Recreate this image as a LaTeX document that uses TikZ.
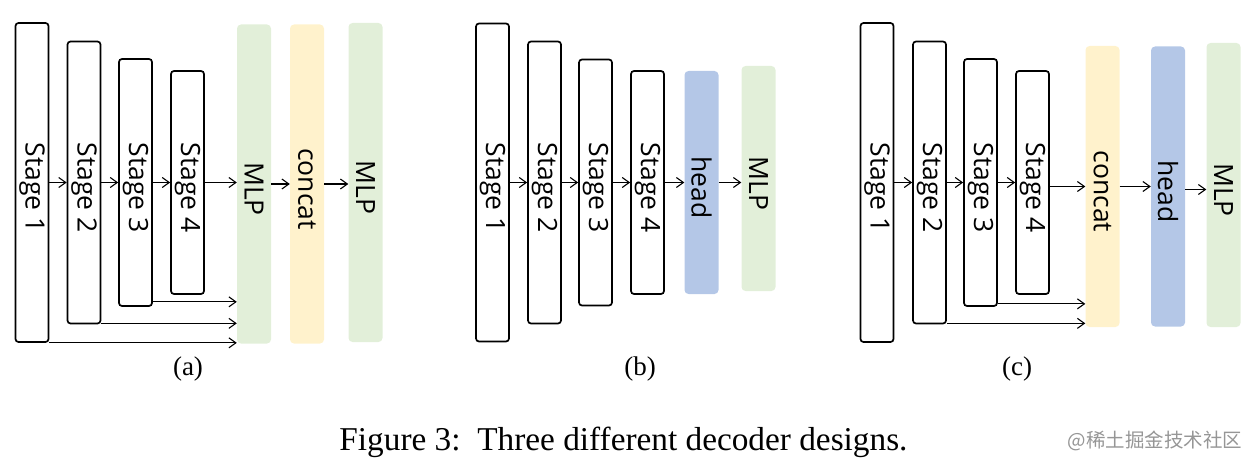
\documentclass[tikz,border=0pt]{standalone}
\usepackage{fontspec}
\setmainfont{Liberation Serif}
\setsansfont{Open Sans}
\newfontfamily\cjkfont{Noto Sans CJK SC}
\usepackage{graphicx}
\usetikzlibrary{arrows.meta}

\definecolor{mlpgreen}{RGB}{226,239,217}
\definecolor{catyellow}{RGB}{255,242,204}
\definecolor{headblue}{RGB}{180,199,231}
\definecolor{markgray}{RGB}{150,150,150}

\newcommand{\vlabel}[1]{\raisebox{-5pt}[\height][\depth]{\rotatebox{-90}{#1}}}

\tikzset{
  stagebox/.style={draw, line width=1.7pt, rounded corners=3pt, inner sep=0pt,
    minimum width=33pt, font=\sffamily\fontsize{26.5}{30}\selectfont},
  softbox/.style={rounded corners=4pt, inner sep=0pt, minimum width=34pt,
    font=\sffamily\fontsize{26.5}{30}\selectfont},
  mlpbox/.style={softbox, fill=mlpgreen},
  catbox/.style={softbox, fill=catyellow},
  headbox/.style={softbox, fill=headblue},
  arr/.style={-{Straight Barb[length=7pt,width=10pt]}, line width=1.1pt},
  sublabel/.style={font=\fontsize{27}{30}\selectfont},
}

\begin{document}
\begin{tikzpicture}[x=1pt, y=-1pt]
  \useasboundingbox (0,0) rectangle (1252,468);

  % (a)
  \node[stagebox, minimum height=319pt] (sa1) at (32,182.5) {\vlabel{Stage 1}};
  \node[stagebox, minimum height=282pt] (sa2) at (84,182.5) {\vlabel{Stage 2}};
  \node[stagebox, minimum height=247pt] (sa3) at (135.5,182.5) {\vlabel{Stage 3}};
  \node[stagebox, minimum height=223pt] (sa4) at (187.5,182.5) {\vlabel{Stage 4}};
  \node[mlpbox, minimum height=319pt] (mlpa1) at (254,184) {\vlabel{MLP}};
  \node[catbox, minimum height=319pt] (cata) at (307,184) {\vlabel{concat}};
  \node[mlpbox, minimum height=319pt] (mlpa2) at (365.5,182.5) {\vlabel{MLP}};

  \draw[arr] (sa1.east) -- (sa2.west);
  \draw[arr] (sa2.east) -- (sa3.west);
  \draw[arr] (sa3.east) -- (sa4.west);
  \draw[arr] (sa4.east) -- (sa4.east -| mlpa1.west);
  \draw[arr] (mlpa1.east) -- (mlpa1.east -| cata.west);
  \draw[arr] (cata.east) -- (cata.east -| mlpa2.west);

  \coordinate (ta3) at ([yshift=5pt]sa3.south east);
  \coordinate (ta2) at ([yshift=1pt]sa2.south east);
  \coordinate (ta1) at (sa1.south east);
  \draw[arr] (ta3) -- (ta3 -| mlpa1.west);
  \draw[arr] (ta2) -- (ta2 -| mlpa1.west);
  \draw[arr] (ta1) -- (ta1 -| mlpa1.west);

  \node[sublabel] (laba) at (188,369) {(a)};

  % (b)
  \node[stagebox, minimum height=318pt] (sb1) at (492.5,182.5) {\vlabel{Stage 1}};
  \node[stagebox, minimum height=282pt] (sb2) at (544.5,182.5) {\vlabel{Stage 2}};
  \node[stagebox, minimum height=246pt] (sb3) at (595.5,182.5) {\vlabel{Stage 3}};
  \node[stagebox, minimum height=223pt] (sb4) at (647.5,182.5) {\vlabel{Stage 4}};
  \node[headbox, minimum height=223pt] (headb) at (701.5,182.5) {\vlabel{head}};
  \node[mlpbox, minimum height=225pt] (mlpb) at (758.5,178.5) {\vlabel{MLP}};

  \draw[arr] (sb1.east) -- (sb2.west);
  \draw[arr] (sb2.east) -- (sb3.west);
  \draw[arr] (sb3.east) -- (sb4.west);
  \draw[arr] (sb4.east) -- (headb.west);
  \draw[arr] (headb.east) -- (headb.east -| mlpb.west);

  \node[sublabel] (labb) at (640,369) {(b)};

  % (c)
  \node[stagebox, minimum height=319pt] (sc1) at (877,182.5) {\vlabel{Stage 1}};
  \node[stagebox, minimum height=282pt] (sc2) at (929.5,182.5) {\vlabel{Stage 2}};
  \node[stagebox, minimum height=247pt] (sc3) at (980.5,182.5) {\vlabel{Stage 3}};
  \node[stagebox, minimum height=223pt] (sc4) at (1032.5,182.5) {\vlabel{Stage 4}};
  \node[catbox, minimum height=281pt] (catc) at (1102.5,186.5) {\vlabel{concat}};
  \node[headbox, minimum height=280pt] (headc) at (1168,186.5) {\vlabel{head}};
  \node[mlpbox, minimum height=284pt] (mlpc) at (1223.5,185) {\vlabel{MLP}};

  \draw[arr] (sc1.east) -- (sc2.west);
  \draw[arr] (sc2.east) -- (sc3.west);
  \draw[arr] (sc3.east) -- (sc4.west);
  \draw[arr] (sc4.east |- catc.west) -- (catc.west);
  \draw[arr] (catc.east) -- (headc.west);
  \draw[arr] ([yshift=-3pt]headc.east) -- ([yshift=-3pt]headc.east -| mlpc.west);

  \coordinate (tc3) at ([yshift=3pt]sc3.south east);
  \coordinate (tc2) at ([yshift=1pt]sc2.south east);
  \draw[arr] (tc3) -- (tc3 -| catc.west);
  \draw[arr] (tc2) -- (tc2 -| catc.west);

  \node[sublabel] (labc) at (1017,369) {(c)};

  % caption
  \node[anchor=base, font=\fontsize{33.3}{36}\selectfont] (cap) at (623.5,450)
    {Figure 3:\ \ Three different decoder designs.};
  \node[text=markgray, font=\cjkfont\fontsize{19.5}{22}\selectfont] (mark) at (1155,441)
    {@稀土掘金技术社区};
\end{tikzpicture}
\end{document}
